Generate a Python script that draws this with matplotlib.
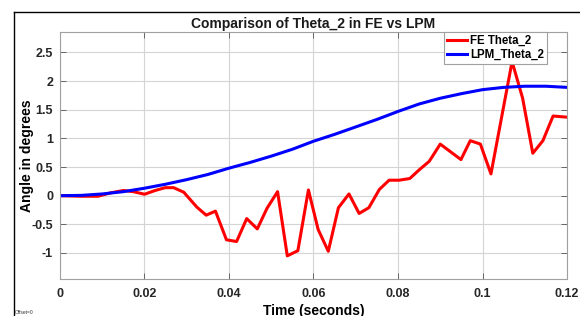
import matplotlib
matplotlib.use("Agg")
import matplotlib.pyplot as plt
from matplotlib.lines import Line2D

plt.rcParams['font.family'] = ['Liberation Sans', 'DejaVu Sans']

# FE result (red), vertices
fe_time = [0, 0.005, 0.009, 0.012, 0.015, 0.0174, 0.02, 0.0225, 0.0249, 0.0269,
           0.0293, 0.0324, 0.0346, 0.0368, 0.0394, 0.0418, 0.0442, 0.0467, 0.049,
           0.0515, 0.0538, 0.0563, 0.0588, 0.0611, 0.0635, 0.0659, 0.0684, 0.0708,
           0.0731, 0.0756, 0.0779, 0.0803, 0.0828, 0.085, 0.0874, 0.09, 0.0949,
           0.0971, 0.0995, 0.102, 0.107, 0.1095, 0.1119, 0.1143, 0.1167, 0.12]
fe_theta = [0, -0.01, -0.01, 0.05, 0.09, 0.07, 0.025, 0.09, 0.14, 0.14,
            0.06, -0.2, -0.34, -0.27, -0.77, -0.80, -0.40, -0.58, -0.22,
            0.07, -1.05, -0.96, 0.10, -0.59, -0.97, -0.21, 0.03, -0.31,
            -0.21, 0.11, 0.27, 0.27, 0.30, 0.45, 0.60, 0.90, 0.63,
            0.96, 0.90, 0.38, 2.34, 1.70, 0.74, 0.96, 1.39, 1.37]

# LPM result (blue)
lpm_time = [0, 0.005, 0.01, 0.015, 0.02, 0.025, 0.03, 0.035, 0.04, 0.045, 0.05,
            0.055, 0.06, 0.065, 0.07, 0.075, 0.08, 0.085, 0.09, 0.095, 0.1,
            0.105, 0.11, 0.115, 0.12]
lpm_theta = [0, 0.005, 0.03, 0.07, 0.13, 0.2, 0.28, 0.37, 0.48, 0.58, 0.69,
             0.81, 0.95, 1.07, 1.2, 1.33, 1.47, 1.6, 1.7, 1.78, 1.85,
             1.89, 1.91, 1.91, 1.89]

xticks = [0, 0.02, 0.04, 0.06, 0.08, 0.1, 0.12]
xticklabels = ['0', '0.02', '0.04', '0.06', '0.08', '0.1', '0.12']
yticks = [-1, -0.5, 0, 0.5, 1, 1.5, 2, 2.5]
yticklabels = ['-1', '-0.5', '0', '0.5', '1', '1.5', '2', '2.5']

fig = plt.figure(figsize=(5.8, 3.16), dpi=100)
ax = fig.add_axes([0.1034, 0.116, 0.8742, 0.7816])

ax.plot(fe_time, fe_theta, color='#ff0000', lw=2.2, label='FE Theta_2')
ax.plot(lpm_time, lpm_theta, color='#0000ff', lw=2.2, label='LPM_Theta_2')

ax.set_xlim(0, 0.12)
ax.set_ylim(-1.46, 2.85)
ax.set_xticks(xticks)
ax.set_xticklabels(xticklabels)
ax.set_yticks(yticks)
ax.set_yticklabels(yticklabels)
ax.tick_params(direction='in', length=4, width=0.6, color='#555555',
               top=True, right=True, labelsize=9, labelcolor='#262626')
ax.tick_params(axis='x', pad=6)
ax.tick_params(axis='y', pad=5)
for lab in ax.get_xticklabels() + ax.get_yticklabels():
    lab.set_fontweight('bold')
ax.grid(True, color='#d4d4d4', lw=0.8)
ax.set_axisbelow(True)
for sp in ax.spines.values():
    sp.set_color('#a0a0a0')
    sp.set_linewidth(0.8)

ax.set_title('Comparison of Theta_2 in FE vs LPM', fontsize=10, fontweight='bold',
             color='#1a1a1a', pad=3)
ax.set_xlabel('Time (seconds)', fontsize=10, fontweight='bold', labelpad=0)
ax.xaxis.set_label_coords(0.5, -0.098)
ax.set_ylabel('Angle in degrees', fontsize=10, fontweight='bold')
ax.yaxis.set_label_coords(-0.052, 0.5)

leg = ax.legend(loc='upper right', bbox_to_anchor=(0.9606, 1.0),
                prop={'weight': 'bold', 'size': 8.3}, fancybox=False,
                framealpha=1, edgecolor='#a0a0a0', borderpad=0.25,
                handlelength=1.75, handletextpad=0.25, labelspacing=0.15,
                borderaxespad=0)
leg.get_frame().set_linewidth(0.8)

# outer figure border
fig.add_artist(Line2D([14 / 580, 1], [1 - 12 / 316, 1 - 12 / 316],
                      transform=fig.transFigure, color='black', lw=1))
fig.add_artist(Line2D([14 / 580, 14 / 580], [0, 1 - 12 / 316],
                      transform=fig.transFigure, color='black', lw=1))
fig.text(15 / 580, 2 / 316, 'Offset=0', fontsize=3.5, color='#333333')

fig.savefig('out.png', dpi=100)
